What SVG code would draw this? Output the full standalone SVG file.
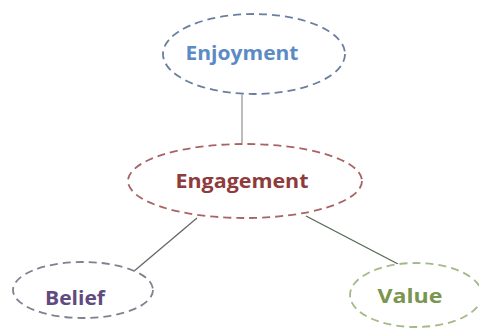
<svg xmlns="http://www.w3.org/2000/svg" width="479" height="329" viewBox="0 0 479 329">
<style>
.node ellipse{fill:#fff;stroke-width:1.8;stroke-dasharray:8 5}
.lbl{font-family:"Open Sans","Liberation Sans",sans-serif;font-weight:bold;font-size:20px;text-anchor:middle}
.conn line{stroke-width:1.3}
</style>
<rect width="479" height="329" fill="#fff"/>
<g id="connectors" class="conn">
<line x1="242" y1="95" x2="242" y2="143" stroke="#999"/>
<line x1="197" y1="218" x2="133" y2="272" stroke="#666"/>
<line x1="306" y1="216" x2="398" y2="264" stroke="#556655"/>
</g>
<g id="enjoyment" class="node">
<ellipse cx="254" cy="54" rx="91" ry="40" stroke="#6a7fa0"/>
<text class="lbl" x="242" y="60" fill="#5b8ac4" textLength="113" lengthAdjust="spacingAndGlyphs">Enjoyment</text>
</g>
<g id="engagement" class="node">
<ellipse cx="245" cy="181" rx="117" ry="37" stroke="#a86464"/>
<text class="lbl" x="242" y="188" fill="#8e3b3b" textLength="133" lengthAdjust="spacingAndGlyphs">Engagement</text>
</g>
<g id="belief" class="node">
<ellipse cx="83" cy="290" rx="70" ry="28" stroke="#80808f"/>
<text class="lbl" x="75" y="305" fill="#614a7e" textLength="60" lengthAdjust="spacingAndGlyphs">Belief</text>
</g>
<g id="value" class="node">
<ellipse cx="416" cy="295" rx="66" ry="32" stroke="#a5b987"/>
<text class="lbl" x="410" y="303" fill="#7a9550" textLength="65" lengthAdjust="spacingAndGlyphs">Value</text>
</g>
</svg>
